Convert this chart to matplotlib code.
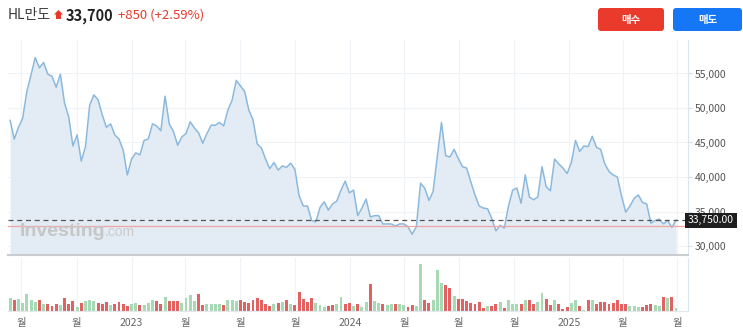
import numpy as np
import pandas as pd
import matplotlib
matplotlib.use('Agg')
import matplotlib.pyplot as plt
import matplotlib.dates as mdates
from matplotlib.patches import FancyBboxPatch, Polygon
from matplotlib.ticker import FuncFormatter

plt.rcParams['font.family'] = ['Noto Sans CJK KR', 'DejaVu Sans']

# weekly closes, HL만도
start_date = '2022-06-12'
prices = [
    48200, 45500, 47200, 48500, 52400, 54800, 57300, 55800, 56600, 54900,
    54600, 53000, 54900, 50700, 48700, 44500, 46100, 42300, 44400, 50400,
    51900, 51200, 49000, 47200, 47700, 46100, 45500, 43900, 40300, 42600,
    43500, 43200, 45300, 45500, 47700, 47400, 46700, 51700, 47700, 46600,
    44600, 45800, 46300, 48000, 47100, 46400, 44900, 46300, 47500, 47500,
    47900, 47400, 49700, 51100, 54000, 53200, 52400, 49700, 48300, 44800,
    44200, 42600, 41200, 42100, 41000, 41600, 41400, 42000, 41100, 37300,
    35800, 35800, 33700, 33500, 35600, 36400, 35200, 36100, 36500, 38100,
    39400, 37700, 38100, 34400, 35500, 36800, 34200, 34400, 34400, 33200,
    33200, 33200, 32900, 33200, 33200, 32800, 31700, 32800, 39100, 38400,
    36600, 37900, 43000, 47900, 43100, 42900, 44000, 42700, 41500, 41300,
    39300, 37400, 35800, 35500, 35400, 34000, 32200, 33000, 32600, 35800,
    38100, 38400, 36200, 40300, 37100, 36700, 37100, 41500, 38600, 38000,
    42600, 41900, 41300, 40500, 42100, 45300, 43700, 44500, 44400, 45900,
    44300, 44000, 41900, 40800, 40300, 40000, 37200, 34900, 35800, 36900,
    37400, 36300, 36100, 33300, 33700, 33900, 33200, 33700, 32700, 33750,
]

# volume (thousand shares, relative)
volumes = [
    133, 107, 123, 83, 167, 107, 90, 107, 73, 67,
    47, 73, 57, 133, 73, 97, 40, 83, 100, 107,
    97, 83, 73, 90, 57, 67, 90, 73, 47, 73,
    80, 57, 57, 80, 113, 100, 67, 140, 100, 100,
    100, 80, 133, 157, 100, 173, 57, 73, 73, 73,
    73, 57, 107, 107, 100, 107, 90, 80, 113, 133,
    113, 73, 47, 73, 80, 90, 113, 67, 57, 190,
    123, 90, 133, 80, 57, 40, 47, 57, 73, 140,
    73, 80, 47, 67, 40, 90, 273, 97, 83, 67,
    57, 67, 67, 73, 57, 40, 57, 47, 467, 107,
    80, 107, 407, 283, 257, 233, 147, 123, 123, 100,
    83, 67, 90, 33, 47, 47, 67, 90, 33, 113,
    73, 67, 67, 113, 113, 67, 90, 183, 123, 57,
    107, 67, 23, 40, 80, 107, 47, 13, 113, 107,
    67, 90, 90, 67, 80, 113, 73, 73, 47, 47,
    40, 40, 57, 67, 57, 47, 140, 133, 140, 33,
]

# 1 = up week (green), 0 = down week (red)
vol_up = [
    1, 0, 1, 1, 1, 1, 1, 0, 1, 0,
    0, 0, 1, 0, 0, 0, 1, 0, 1, 1,
    1, 0, 0, 0, 1, 0, 0, 0, 0, 1,
    1, 0, 1, 1, 1, 0, 0, 1, 0, 0,
    0, 1, 1, 1, 1, 0, 0, 1, 1, 1,
    1, 0, 1, 1, 1, 0, 0, 0, 0, 0,
    0, 0, 0, 1, 0, 1, 0, 1, 0, 0,
    0, 0, 0, 1, 1, 1, 0, 0, 1, 1,
    0, 0, 1, 0, 1, 1, 0, 1, 1, 0,
    1, 1, 0, 1, 1, 0, 0, 1, 1, 0,
    0, 1, 1, 1, 0, 0, 1, 0, 0, 0,
    0, 0, 0, 0, 1, 0, 0, 1, 0, 1,
    1, 1, 0, 1, 0, 0, 1, 1, 0, 0,
    1, 0, 0, 0, 1, 1, 0, 1, 0, 1,
    0, 0, 0, 0, 0, 0, 0, 0, 1, 1,
    1, 0, 0, 0, 1, 1, 0, 1, 0, 1,
]

last_price = 33750
prev_close = 32850
price_ticks = [30000, 35000, 40000, 45000, 50000, 55000]
tick_dates = pd.date_range('2022-07-01', '2025-07-01', freq='QS')
tick_labels = [str(d.year) if d.month == 1 else '월' for d in tick_dates]

header_name = 'HL만도'
header_price = '33,700'
header_change = '+850 (+2.59%)'

dates = pd.date_range(start_date, periods=len(prices), freq='7D')

W, H = 743, 335
fig = plt.figure(figsize=(W / 100, H / 100), dpi=100)
fig.patch.set_facecolor('white')

line_col = '#8bb9de'
fill_col = '#e3ecf4'
grid_col = '#eff2f6'
up_col = '#a7dab4'
down_col = '#e26262'

x_left = dates[0] - pd.Timedelta(days=3.5)
x_right = dates[0] + pd.Timedelta(days=1133)

# price panel
ax = fig.add_axes([8 / W, 1 - 255 / H, 680 / W, 215 / H])
ax.fill_between(dates, prices, 28700, color=fill_col, lw=0, zorder=1)
ax.plot(dates, prices, color=line_col, lw=1.1, zorder=2)
ax.axhline(prev_close, color='#f2a3a3', lw=0.9, zorder=2)
ax.axhline(last_price, color='#555555', lw=0.9, ls=(0, (4, 3)), zorder=2)
ax.set_xlim(x_left, x_right)
ax.set_ylim(28700, 59850)
ax.set_xticks(tick_dates)
ax.set_xticklabels([])
ax.tick_params(axis='x', length=0)
ax.yaxis.tick_right()
ax.set_yticks(price_ticks)
ax.yaxis.set_major_formatter(FuncFormatter(lambda v, p: f'{int(v):,}'))
ax.tick_params(axis='y', length=3, color='#d8dde3', labelsize=7.5,
               labelcolor='#555555', pad=2)
ax.grid(True, color=grid_col, lw=0.8)
ax.set_axisbelow(True)
for s in ['left', 'top']:
    ax.spines[s].set_visible(False)
ax.spines['right'].set_color('#dde5ee')
ax.spines['bottom'].set_color('#c9cdd2')
ax.spines['bottom'].set_linewidth(1.5)

# last price tag sits over the 35,000 label, as on the site
ax.text(1.0, last_price, '33,750.00', transform=ax.get_yaxis_transform(),
        ha='left', va='center', fontsize=7.5, color='white', zorder=10,
        clip_on=False,
        bbox=dict(boxstyle='square,pad=0.25', fc='#1e1e1e', ec='none'))

# volume panel
axv = fig.add_axes([8 / W, 1 - 311 / H, 680 / W, 53 / H])
bar_cols = [up_col if u else down_col for u in vol_up]
axv.bar(dates, volumes, width=4.9, color=bar_cols, lw=0, zorder=2)
axv.set_xlim(x_left, x_right)
axv.set_ylim(0, 527)
axv.set_yticks([])
axv.set_xticks(tick_dates)
axv.set_xticklabels(tick_labels)
axv.tick_params(axis='x', length=0, labelsize=7.5, labelcolor='#666666', pad=5)
axv.grid(True, axis='x', color=grid_col, lw=0.8)
axv.set_axisbelow(True)
for s in ['left', 'top']:
    axv.spines[s].set_visible(False)
axv.spines['right'].set_color('#dde5ee')
axv.spines['bottom'].set_color('#e4e7eb')

# header, buttons, watermark in pixel coords
ov = fig.add_axes([0, 0, 1, 1], zorder=5)
ov.set_xlim(0, W)
ov.set_ylim(H, 0)
ov.axis('off')
ov.patch.set_alpha(0)

ov.text(20, 236, 'Investing', fontsize=14, fontweight='bold', color='#c6c6c6',
        va='baseline', ha='left', family='Liberation Sans')
ov.text(105, 236, '.com', fontsize=10, color='#cbcbcb', va='baseline', ha='left',
        family='Liberation Sans')

ov.text(8, 15.5, header_name, fontsize=10, color='#3a3a3a', va='center', ha='left')
ov.add_patch(Polygon([(58.5, 10), (63, 14.5), (61, 14.5), (61, 19), (56, 19),
                      (56, 14.5), (54, 14.5)], closed=True, fc='#e8392b', ec='none'))
ov.text(66, 15.5, header_price, fontsize=10.5, fontweight='bold', color='#222222',
        va='center', ha='left')
ov.text(118, 15.5, header_change, fontsize=9.5, color='#e8392b', va='center', ha='left')

ov.add_patch(FancyBboxPatch((598, 8), 66, 23, boxstyle='round,pad=0,rounding_size=3',
                            fc='#ea3a2c', ec='none'))
ov.add_patch(FancyBboxPatch((673, 8), 69, 23, boxstyle='round,pad=0,rounding_size=3',
                            fc='#1677f6', ec='none'))
ov.text(631, 19.5, '매수', fontsize=7.5, fontweight='bold', color='white',
        ha='center', va='center')
ov.text(707.5, 19.5, '매도', fontsize=7.5, fontweight='bold', color='white',
        ha='center', va='center')

fig.savefig('out.png', dpi=100, facecolor='white')
